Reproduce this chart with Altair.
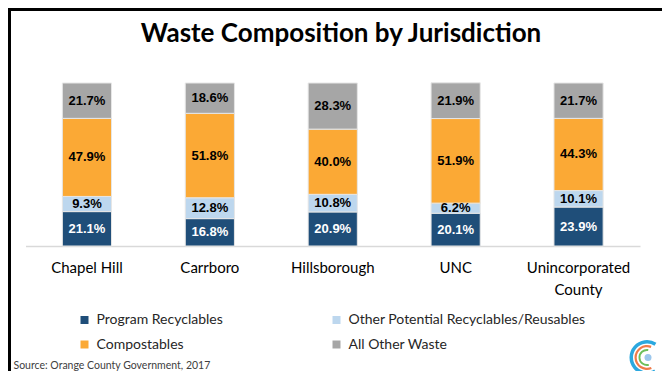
import altair as alt
import pandas as pd

jurisdictions = ["Chapel Hill", "Carrboro", "Hillsborough", "UNC", "Unincorporated County"]
categories = ["Program Recyclables", "Other Potential Recyclables/Reusables", "Compostables", "All Other Waste"]
program_recyclables = [21.1, 16.8, 20.9, 20.1, 23.9]
other_potential = [9.3, 12.8, 10.8, 6.2, 10.1]
compostables = [47.9, 51.8, 40.0, 51.9, 44.3]
all_other = [21.7, 18.6, 28.3, 21.9, 21.7]
colors = ["#1F4E79", "#BDD7EE", "#FBA935", "#A6A6A6"]

rows = []
for ci, (cat, vals) in enumerate(zip(categories, [program_recyclables, other_potential, compostables, all_other])):
    for j, v in zip(jurisdictions, vals):
        rows.append({"jurisdiction": j, "category": cat, "value": v, "order": ci})
df = pd.DataFrame(rows)

W, H = 614.5, 163
PAD = {"left": 17.5, "top": 75, "right": 22, "bottom": 125}

xenc = alt.X(
    "jurisdiction:N", sort=jurisdictions,
    scale=alt.Scale(paddingInner=0.6, paddingOuter=0.3),
    axis=alt.Axis(title=None, labelAngle=0, ticks=False, domainColor="#D9D9D9", domainWidth=1.5,
                  labelFont="Lato", labelFontSize=15, labelColor="#000000", labelPadding=14,
                  labelLineHeight=22,
                  labelExpr="datum.label == 'Unincorporated County' ? ['Unincorporated', 'County'] : datum.label"),
)
yscale = alt.Scale(domain=[0, 100], nice=False)

base = alt.Chart(df).transform_stack(
    stack="value", groupby=["jurisdiction"], sort=[alt.SortField("order", order="ascending")], as_=["v0", "v1"]
)

bars = base.mark_bar(stroke="#E6E6E6", strokeWidth=1).encode(
    x=xenc,
    y=alt.Y("v0:Q", scale=yscale, axis=None),
    y2="v1:Q",
    color=alt.Color(
        "category:N", sort=categories,
        scale=alt.Scale(domain=categories, range=colors),
        legend=alt.Legend(orient="none", legendX=52, legendY=230, columns=2, direction="horizontal",
                          title=None,
                          symbolType="square", symbolSize=64, symbolStrokeWidth=0,
                          labelFont="Lato", labelFontSize=14, labelColor="#262626",
                          columnPadding=106, rowPadding=10.5, labelOffset=5, padding=0,
                          labelLimit=400),
    ),
)

labels = base.transform_calculate(
    mid="(datum.v0 + datum.v1) / 2",
    lbl="format(datum.value, '.1f') + '%'",
).mark_text(font="Liberation Sans", fontWeight="bold", fontSize=13, baseline="middle").encode(
    x=xenc,
    y=alt.Y("mid:Q", scale=yscale, axis=None),
    text="lbl:N",
    color=alt.condition("datum.order == 0", alt.value("#FFFFFF"), alt.value("#000000")),
)

one = pd.DataFrame({"k": [0]})

title = alt.Chart(one).mark_text(
    text="Waste Composition by Jurisdiction", font="Lato", fontWeight="bold", fontSize=26,
    align="center", baseline="middle", color="#000000",
).encode(x=alt.value(315.5), y=alt.value(-49.5))

source = alt.Chart(one).mark_text(
    text="Source: Orange County Government, 2017", font="Lato", fontSize=10.5,
    align="left", baseline="middle", color="#404040",
).encode(x=alt.value(-12), y=alt.value(282.5))

frame_left = alt.Chart(one).mark_rule(color="#000000", strokeWidth=3).encode(
    x=alt.value(-16), y=alt.value(-75), y2=alt.value(288)
)
frame_top = alt.Chart(one).mark_rule(color="#000000", strokeWidth=3).encode(
    x=alt.value(-17.5), x2=alt.value(636.5), y=alt.value(-73.5)
)

cx, cy = 621.5, 274.5
logo_outer = alt.Chart(one).mark_arc(theta=2.6, theta2=6.85, radius=17.5, radius2=14, color="#2BA8DF").encode(
    x=alt.value(cx), y=alt.value(cy))
logo_mid = alt.Chart(one).mark_arc(theta=2.75, theta2=6.65, radius=12.5, radius2=10.3, color="#EF7B4A").encode(
    x=alt.value(cx), y=alt.value(cy))
logo_in = alt.Chart(one).mark_arc(theta=2.9, theta2=6.45, radius=8.5, radius2=6.6, color="#6CBF5A").encode(
    x=alt.value(cx), y=alt.value(cy))
logo_dot = alt.Chart(one).mark_arc(theta=0, theta2=6.2832, radius=3.5, color="#9CC7EC").encode(
    x=alt.value(cx + 1), y=alt.value(cy))

chart = alt.layer(
    bars, labels, title, source, frame_left, frame_top, logo_outer, logo_mid, logo_in, logo_dot
).properties(
    width=W, height=H, padding=PAD, autosize=alt.AutoSizeParams(type="none"),
    background="#FFFFFF",
).configure_view(stroke=None)

chart.save("out.html", embed_options={"renderer": "svg", "actions": False})
